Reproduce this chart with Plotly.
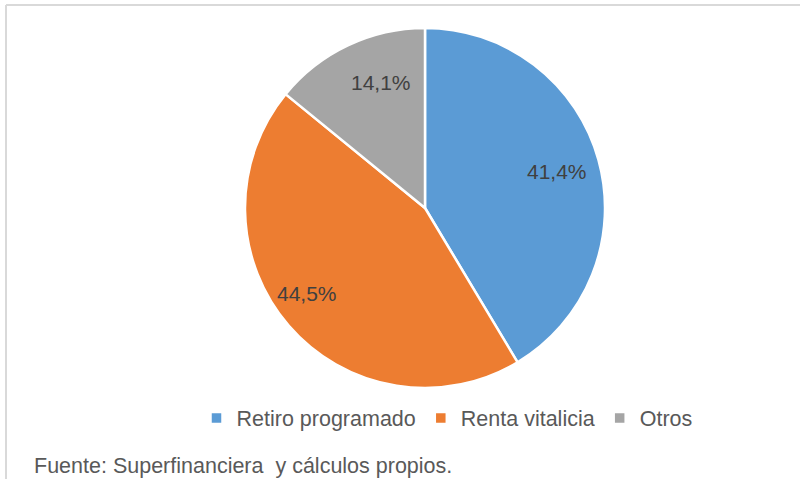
import math
import plotly.graph_objects as go

categories = ["Retiro programado", "Renta vitalicia", "Otros"]
values = [41.4, 44.5, 14.1]
labels_text = ["41,4%", "44,5%", "14,1%"]
colors = ["#5B9BD5", "#ED7D31", "#A5A5A5"]

# label placement style (fraction of radius, angular tweak in degrees)
label_rfrac = [0.76, 0.81, 0.74]
label_dang = [0, 5, 6]

W, H = 800, 479
cx, cy, r = 425, 208, 180
FONT = "Liberation Sans, Arial"

fig = go.Figure(go.Pie(
    labels=categories,
    values=values,
    textinfo="none",
    sort=False,
    direction="clockwise",
    rotation=0,
    marker=dict(colors=colors, line=dict(color="white", width=2.5)),
    domain=dict(x=[(cx - r) / W, (cx + r) / W], y=[1 - (cy + r) / H, 1 - (cy - r) / H]),
    hoverinfo="label+percent",
))

annotations = []
total = sum(values)
cum = 0.0
for v, t, rf, da in zip(values, labels_text, label_rfrac, label_dang):
    mid = (cum + v / 2) / total * 360 + da
    cum += v
    px = cx + rf * r * math.sin(math.radians(mid))
    py = cy - rf * r * math.cos(math.radians(mid))
    annotations.append(dict(text=t, xref="paper", yref="paper", x=px / W, y=1 - py / H,
                            xanchor="center", yanchor="middle", showarrow=False,
                            font=dict(family=FONT, size=21, color="#404040")))

annotations.append(dict(text="Fuente: Superfinanciera  y cálculos propios.", xref="paper", yref="paper",
                        x=32 / W, y=1 - 466 / H, xanchor="left", yanchor="middle", showarrow=False,
                        font=dict(family=FONT, size=21.5, color="#595959")))

fig.update_layout(
    width=W, height=H,
    margin=dict(l=0, r=0, t=0, b=0),
    paper_bgcolor="white",
    plot_bgcolor="white",
    showlegend=True,
    legend=dict(
        orientation="h",
        x=447 / W, xanchor="center",
        y=1 - 418 / H, yanchor="middle",
        font=dict(family=FONT, size=21.5, color="#595959"),
        itemwidth=30,
    ),
    shapes=[
        dict(type="line", xref="paper", yref="paper", x0=6 / W, x1=1, y0=1 - 5 / H, y1=1 - 5 / H,
             line=dict(color="#D9D9D9", width=2)),
        dict(type="line", xref="paper", yref="paper", x0=6 / W, x1=6 / W, y0=0, y1=1 - 5 / H,
             line=dict(color="#D9D9D9", width=2)),
    ],
    annotations=annotations,
)

fig.write_html("out.html", config={"displayModeBar": False},
               post_script="document.body.style.margin='0';document.body.style.overflow='hidden';")
